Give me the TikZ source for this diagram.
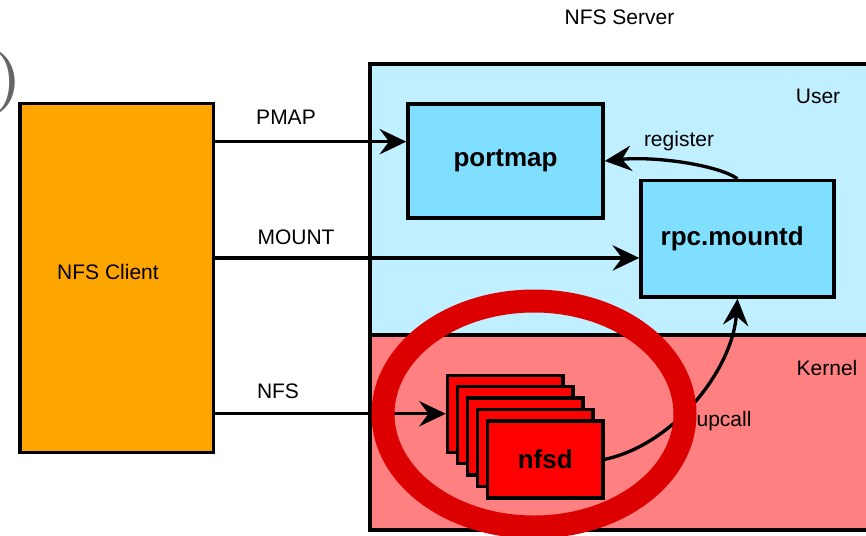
\documentclass[tikz,border=0pt]{standalone}
\usepackage{fontspec}
\setsansfont{Liberation Sans}
\usepackage{xcolor}
\usepackage{tikz}
\usetikzlibrary{arrows.meta,positioning}
\definecolor{laranja}{HTML}{FFA500}
\definecolor{azulclaro}{HTML}{C0EFFF}
\definecolor{azulforte}{HTML}{80DFFF}
\definecolor{salmao}{HTML}{FF8080}
\definecolor{vermelho}{HTML}{FF0000}
\definecolor{destaque}{HTML}{DD0000}
\tikzset{
    bloco/.style={
        rectangle,
        draw,
        line width=2.6pt,
        inner sep=0pt,
        align=center,
        font=\sffamily\bfseries\fontsize{19.5}{22}\selectfont
    },
    cliente/.style={bloco, fill=laranja, minimum width=145.1pt, minimum height=261.75pt},
    daemon/.style={bloco, fill=azulforte},
    trabalhador/.style={bloco, fill=vermelho, minimum width=86.6pt, minimum height=57.75pt},
    rotulo/.style={inner sep=0pt, font=\sffamily\fontsize{15.75}{18}\selectfont},
    fluxo/.style={-{Stealth[length=20pt, width=19pt, inset=7pt]}, line width=2.5pt},
    regiao/.style={draw, line width=3pt},
    anel/.style={draw=destaque, line width=17.25pt}
}

\begin{document}
\begin{tikzpicture}[x=0.75pt, y=-0.75pt]
    \clip (0,0) rectangle (866,535);

    % regioes do servidor
    \fill[azulclaro] (370,64.5) rectangle (890,335);
    \fill[salmao] (370,335) rectangle (890,530);
    \draw[line width=2.4pt] (370,335) -- (890,335);
    \draw[regiao] (370,64.5) rectangle (890,530);

    \node[rotulo] (servidor) at (619.5,17.5) {NFS Server};
    \node[rotulo] (usuario) at (818,96) {User};
    \node[rotulo] (nucleo) at (827,368) {Kernel};
    \node[anchor=base west, inner sep=0pt, text=black!60,
        font=\rmfamily\bfseries\fontsize{45}{45}\selectfont] (parentese) at (-5,98) {)};

    \node[cliente] (nfscliente) at (116.75,278) {};
    \node[rotulo] (clientetexto) at (108,272) {NFS Client};
    \node[daemon, minimum width=146.25pt, minimum height=85.5pt] (portmap)
        at (505.5,161) {portmap};
    \node[daemon, minimum width=144.75pt, minimum height=87.4pt] (mountd)
        at (737.5,238.75) {rpc.mountd\hspace*{8pt}};

    \node[trabalhador] (nfsd1) at (505.25,413.75) {};
    \node[trabalhador] (nfsd2) at ([shift={(10,11.4)}]nfsd1.center) {};
    \node[trabalhador] (nfsd3) at ([shift={(10,11.4)}]nfsd2.center) {};
    \node[trabalhador] (nfsd4) at ([shift={(10,11.4)}]nfsd3.center) {};
    \node[trabalhador] (nfsd5) at ([shift={(10,11.4)}]nfsd4.center) {nfsd};

    \draw[fluxo] ([yshift=14.5pt]portmap.west -| nfscliente.east) -- ([yshift=14.5pt]portmap.west);
    \draw[fluxo] ([yshift=-14.4pt]mountd.west -| nfscliente.east) -- ([yshift=-14.4pt]mountd.west);
    \draw[fluxo] (nfscliente.east |- nfsd1.west) -- (nfsd1.west);
    \draw[fluxo] (mountd.north) .. controls +(-20,-14) and +(50,-5) .. (portmap.east);
    \draw[fluxo] (nfsd5.east) .. controls +(70,-15) and +(-5,70) .. (mountd.south);

    \node[rotulo] (pmap) at (286,117) {PMAP};
    \node[rotulo] (mount) at (296,237) {MOUNT};
    \node[rotulo] (nfs) at (278,391) {NFS};
    \node[rotulo] (register) at (679,141) {register};
    \node[rotulo] (upcall) at (724,421) {upcall};

    \draw[anel] (534,414) ellipse [x radius=113.25pt, y radius=84.75pt];
\end{tikzpicture}
\end{document}
